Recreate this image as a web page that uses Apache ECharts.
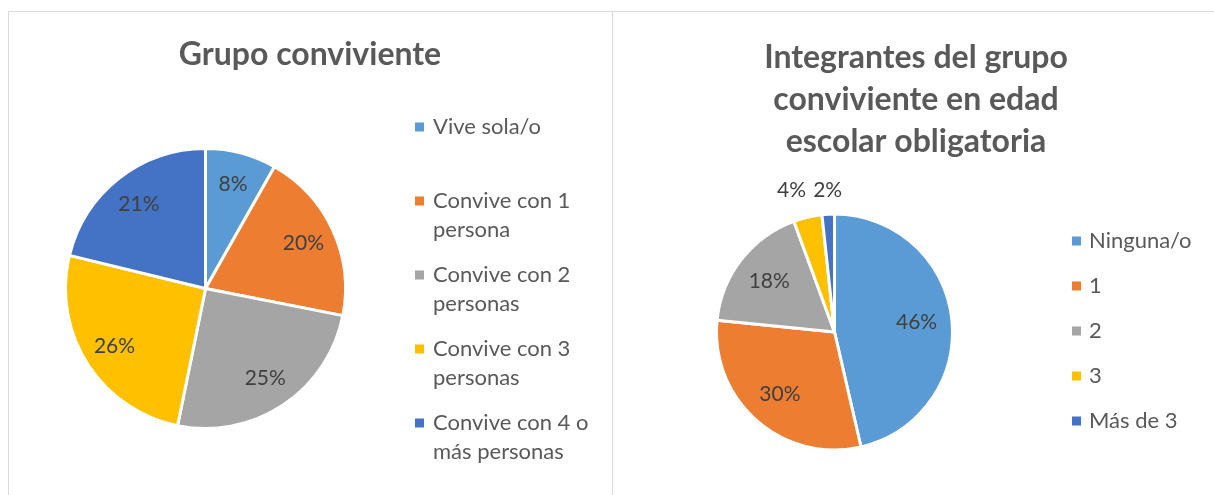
<!DOCTYPE html>
<html lang="es">
<head>
  <meta charset="UTF-8">
  <title>Grupo conviviente</title>
  <script src="https://cdn.jsdelivr.net/npm/echarts@6/dist/echarts.min.js"></script>
  <style>
    html, body { margin: 0; padding: 0; background: #fff; overflow: hidden; }
    #frame { position: absolute; left: 8px; top: 11px; width: 1300px; height: 600px;
             border-left: 1px solid #d9d9d9; border-top: 1px solid #d9d9d9; }
    #split { position: absolute; left: 612px; top: 11px; width: 1px; height: 600px; background: #d9d9d9; }
    #main { position: absolute; left: 0; top: 0; width: 1214px; height: 495px; }
  </style>
</head>
<body>
<div id="frame"></div>
<div id="split"></div>
<div id="main"></div>
<script type="text/javascript">
  // datos (porcentajes)
  var titleLeft = 'Grupo conviviente';
  var catsLeft = ['Vive sola/o', 'Convive con 1 persona', 'Convive con 2 personas',
                  'Convive con 3 personas', 'Convive con 4 o más personas'];
  var legendLeft = ['Vive sola/o\n', 'Convive con 1\npersona', 'Convive con 2\npersonas',
                    'Convive con 3\npersonas', 'Convive con 4 o\nmás personas'];
  var valsLeft = [8.2, 19.9, 25.1, 25.6, 21.2];

  var titleRight = 'Integrantes del grupo\nconviviente en edad\nescolar obligatoria';
  var catsRight = ['Ninguna/o', '1', '2', '3', 'Más de 3'];
  var valsRight = [46.4, 30.2, 17.8, 3.9, 1.7];

  var colors = ['#5B9BD5', '#ED7D31', '#A5A5A5', '#FFC000', '#4472C4'];
  var FONT = 'Lato';

  var leftCenter = [205.5, 288.5], leftR = 140;
  var rightCenter = [834.5, 332], rightR = 118;

  // mueve las etiquetas a lo largo del radio (como el "ajuste óptimo" de Excel)
  function radial(center, r, def, extra) {
    return function (p) {
      var lx = p.labelRect.x + p.labelRect.width / 2;
      var ly = p.labelRect.y + p.labelRect.height / 2;
      var ang = Math.atan2(ly - center[1], lx - center[0]);
      var k = def;
      var e = extra[p.dataIndex];
      if (e) {
        k = e.k;
        ang += (e.turn || 0) * Math.PI / 180;
      }
      return { x: center[0] + Math.cos(ang) * k * r, y: center[1] + Math.sin(ang) * k * r };
    };
  }

  function pieData(cats, vals) {
    var out = [];
    for (var i = 0; i < cats.length; i++) out.push({ name: cats[i], value: vals[i] });
    return out;
  }

  var wrapMap = {};
  for (var i = 0; i < catsLeft.length; i++) wrapMap[catsLeft[i]] = legendLeft[i];

  var myChart = echarts.init(document.getElementById('main'));

  var labelStyle = {
    show: true,
    position: 'inside',
    formatter: '{d}%',
    color: '#404040',
    fontFamily: FONT,
    fontSize: 21
  };

  myChart.setOption({
    animation: false,
    color: colors,
    title: [
      {
        text: titleLeft, left: 310, top: 34, textAlign: 'center', padding: 0,
        textStyle: { fontFamily: FONT, fontSize: 32, fontWeight: 'bold', color: '#595959', lineHeight: 42 }
      },
      {
        text: titleRight, left: 916, top: 37, textAlign: 'center', padding: 0,
        textStyle: { fontFamily: FONT, fontSize: 32, fontWeight: 'bold', color: '#595959', lineHeight: 42 }
      }
    ],
    legend: [
      {
        data: catsLeft,
        orient: 'vertical',
        left: 415, top: 112.5,
        padding: 0,
        itemGap: 16,
        itemWidth: 13, itemHeight: 58,
        icon: 'path://M0,0M0,10L9,10L9,19L0,19ZM13,58',
        itemStyle: { borderWidth: 0 },
        formatter: function (name) { return wrapMap[name]; },
        textStyle: { fontFamily: FONT, fontSize: 22, color: '#595959', lineHeight: 29 },
        selectedMode: false
      },
      {
        data: catsRight,
        orient: 'vertical',
        left: 1072, top: 226.5,
        padding: 0,
        itemGap: 16,
        itemWidth: 12, itemHeight: 29,
        icon: 'path://M0,0M0,10L9,10L9,19L0,19ZM12,29',
        itemStyle: { borderWidth: 0 },
        textStyle: { fontFamily: FONT, fontSize: 22, color: '#595959', lineHeight: 29 },
        selectedMode: false
      }
    ],
    series: [
      {
        type: 'pie',
        center: leftCenter,
        radius: leftR,
        startAngle: 90,
        clockwise: true,
        percentPrecision: 0,
        avoidLabelOverlap: false,
        itemStyle: { borderColor: '#fff', borderWidth: 3 },
        label: labelStyle,
        labelLine: { show: false },
        labelLayout: radial(leftCenter, leftR, 0.77, {}),
        emphasis: { disabled: true },
        data: pieData(catsLeft, valsLeft)
      },
      {
        type: 'pie',
        center: rightCenter,
        radius: rightR,
        startAngle: 90,
        clockwise: true,
        percentPrecision: 0,
        avoidLabelOverlap: false,
        itemStyle: { borderColor: '#fff', borderWidth: 3 },
        label: labelStyle,
        labelLine: { show: false },
        labelLayout: radial(rightCenter, rightR, 0.7, {
          3: { k: 1.255, turn: -3.7 },
          4: { k: 1.205, turn: 0.3 }
        }),
        emphasis: { disabled: true },
        data: pieData(catsRight, valsRight)
      }
    ]
  });
</script>
</body>
</html>
